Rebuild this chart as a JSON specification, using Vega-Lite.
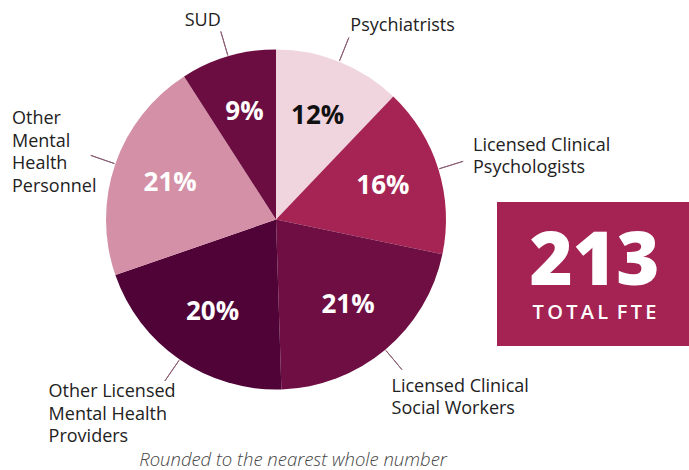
{
  "$schema": "https://vega.github.io/schema/vega-lite/v6.json",
  "width": 689,
  "height": 470,
  "autosize": {"type": "none"},
  "padding": 0,
  "background": "white",
  "config": {"view": {"stroke": null}},
  "data": {
    "values": [
      {"idx": 1, "category": "Psychiatrists", "label": "Psychiatrists", "pct": 0.12},
      {"idx": 2, "category": "Licensed Clinical Psychologists", "label": "Licensed Clinical\nPsychologists", "pct": 0.16},
      {"idx": 3, "category": "Licensed Clinical Social Workers", "label": "Licensed Clinical\nSocial Workers", "pct": 0.21},
      {"idx": 4, "category": "Other Licensed Mental Health Providers", "label": "Other Licensed\nMental Health\nProviders", "pct": 0.20},
      {"idx": 5, "category": "Other Mental Health Personnel", "label": "Other\nMental\nHealth\nPersonnel", "pct": 0.21},
      {"idx": 6, "category": "SUD", "label": "SUD", "pct": 0.09}
    ]
  },
  "encoding": {
    "x": {"datum": 276, "type": "quantitative", "scale": {"domain": [0, 689], "nice": false, "zero": false}, "axis": null},
    "y": {"datum": 219.5, "type": "quantitative", "scale": {"domain": [0, 470], "nice": false, "zero": false, "reverse": true}, "axis": null},
    "theta": {"field": "pct", "type": "quantitative", "stack": true},
    "order": {"field": "idx", "type": "quantitative"}
  },
  "layer": [
    {
      "mark": {"type": "arc", "radius": 170},
      "encoding": {
        "color": {
          "field": "category", "type": "nominal", "legend": null,
          "scale": {
            "domain": ["Psychiatrists", "Licensed Clinical Psychologists", "Licensed Clinical Social Workers", "Other Licensed Mental Health Providers", "Other Mental Health Personnel", "SUD"],
            "range": ["#f0d4de", "#a62453", "#6e0e42", "#4f0336", "#d490a6", "#6c0d41"]
          }
        }
      }
    },
    {
      "mark": {"type": "arc", "radius": 196, "radius2": 171, "padAngle": 3.14, "fillOpacity": 0, "stroke": "#8c5d73", "strokeWidth": 1}
    },
    {
      "mark": {"type": "text", "radius": 112, "font": "Open Sans", "fontWeight": "bold", "fontSize": 26, "align": "center", "baseline": "middle"},
      "encoding": {
        "text": {"field": "pct", "type": "quantitative", "format": ".0%"},
        "color": {"condition": {"test": "datum.category === 'Psychiatrists'", "value": "#111111"}, "value": "#ffffff"}
      }
    },
    {
      "mark": {"type": "text", "radius": 200, "align": "left", "baseline": "alphabetic", "dx": 0, "dy": -3, "font": "Open Sans", "fontSize": 18, "lineBreak": "\n", "lineHeight": 22.5, "fill": "#222222"},
      "encoding": {"text": {"condition": {"test": "datum.category === 'Psychiatrists'", "field": "label"}, "value": ""}}
    },
    {
      "mark": {"type": "text", "radius": 200, "align": "left", "baseline": "alphabetic", "dx": 6, "dy": -9, "font": "Open Sans", "fontSize": 18, "lineBreak": "\n", "lineHeight": 22, "fill": "#222222"},
      "encoding": {"text": {"condition": {"test": "datum.category === 'Licensed Clinical Psychologists'", "field": "label"}, "value": ""}}
    },
    {
      "mark": {"type": "text", "radius": 200, "align": "left", "baseline": "alphabetic", "dx": -13, "dy": 19, "font": "Open Sans", "fontSize": 18, "lineBreak": "\n", "lineHeight": 22, "fill": "#222222"},
      "encoding": {"text": {"condition": {"test": "datum.category === 'Licensed Clinical Social Workers'", "field": "label"}, "value": ""}}
    },
    {
      "mark": {"type": "text", "radius": 200, "align": "left", "baseline": "alphabetic", "dx": -114, "dy": 13, "font": "Open Sans", "fontSize": 18, "lineBreak": "\n", "lineHeight": 22.5, "fill": "#222222"},
      "encoding": {"text": {"condition": {"test": "datum.category === 'Other Licensed Mental Health Providers'", "field": "label"}, "value": ""}}
    },
    {
      "mark": {"type": "text", "radius": 200, "align": "left", "baseline": "alphabetic", "dx": -75, "dy": -30, "font": "Open Sans", "fontSize": 18, "lineBreak": "\n", "lineHeight": 22.7, "fill": "#222222"},
      "encoding": {"text": {"condition": {"test": "datum.category === 'Other Mental Health Personnel'", "field": "label"}, "value": ""}}
    },
    {
      "mark": {"type": "text", "radius": 200, "align": "left", "baseline": "alphabetic", "dx": -35, "dy": -2, "font": "Open Sans", "fontSize": 18, "lineBreak": "\n", "lineHeight": 22.5, "fill": "#222222"},
      "encoding": {"text": {"condition": {"test": "datum.category === 'SUD'", "field": "label"}, "value": ""}}
    },
    {
      "data": {"values": [{"total": 213, "unit": "T\u2009O\u2009T\u2009A\u2009L\u2009 F\u2009T\u2009E"}]},
      "layer": [
        {
          "mark": {"type": "rect", "fill": "#a52352"},
          "encoding": {
            "x": {"datum": 497, "type": "quantitative"},
            "x2": {"datum": 689},
            "y": {"datum": 202, "type": "quantitative"},
            "y2": {"datum": 346},
            "theta": null,
            "order": null
          }
        },
        {
          "mark": {"type": "text", "font": "Open Sans", "fontWeight": 800, "fontSize": 74, "fill": "#ffffff", "align": "center", "baseline": "alphabetic"},
          "encoding": {
            "x": {"datum": 594.5, "type": "quantitative"},
            "y": {"datum": 285, "type": "quantitative"},
            "text": {"field": "total", "type": "quantitative"},
            "theta": null,
            "order": null
          }
        },
        {
          "mark": {"type": "text", "font": "Open Sans", "fontWeight": 600, "fontSize": 20, "fill": "#ffffff", "align": "center", "baseline": "alphabetic"},
          "encoding": {
            "x": {"datum": 594.5, "type": "quantitative"},
            "y": {"datum": 319, "type": "quantitative"},
            "text": {"field": "unit", "type": "nominal"},
            "theta": null,
            "order": null
          }
        }
      ]
    },
    {
      "data": {"values": [{"note": "Rounded to the nearest whole number"}]},
      "mark": {"type": "text", "font": "Open Sans", "fontStyle": "italic", "fontWeight": 300, "fontSize": 18.5, "fill": "#444444", "align": "center", "baseline": "alphabetic"},
      "encoding": {
        "x": {"datum": 293, "type": "quantitative"},
        "y": {"datum": 466, "type": "quantitative"},
        "text": {"field": "note", "type": "nominal"},
        "theta": null,
        "order": null
      }
    }
  ]
}
